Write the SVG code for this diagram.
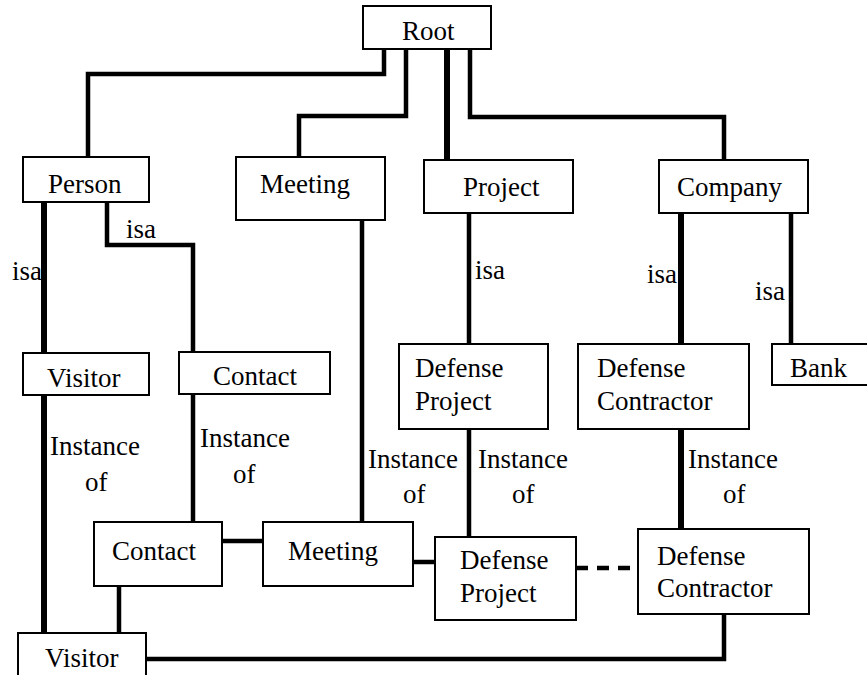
<svg xmlns="http://www.w3.org/2000/svg" width="867" height="675" viewBox="0 0 867 675">
<style>
.box{fill:#fff;stroke:#000;stroke-width:2}
text{font-family:"Liberation Serif",Tinos,"Times New Roman",Times,"DejaVu Serif",serif;font-size:27px;fill:#000}
.c{fill:none;stroke:#000;stroke-width:4.5;stroke-linejoin:miter}
.ck{fill:none;stroke:#000;stroke-width:6}
.d{fill:none;stroke:#000;stroke-width:4.5;stroke-dasharray:12,9}
</style>
<rect width="867" height="675" fill="#fff"/>
<g id="connectors">
<polyline class="c" points="384,49 384,74 88,74 88,157"/>
<polyline class="c" points="406,49 406,116 299,116 299,157"/>
<polyline class="ck" points="447,49 447,160"/>
<polyline class="c" points="470,49 470,117 724,117 724,160"/>
<polyline class="ck" points="44,202 44,353"/>
<polyline class="c" points="107,202 107,245 193,245 193,352"/>
<polyline class="c" points="469,213 469,344"/>
<polyline class="ck" points="681,213 681,344"/>
<polyline class="c" points="791,213 791,344"/>
<polyline class="ck" points="44,395 44,633"/>
<polyline class="c" points="193,394 193,522"/>
<polyline class="c" points="362,220 362,522"/>
<polyline class="c" points="469,429 469,537"/>
<polyline class="ck" points="681,429 681,529"/>
<polyline class="c" points="222,541 263,541"/>
<polyline class="c" points="413,562 435,562"/>
<polyline class="d" points="576,568 638,568"/>
<polyline class="c" points="119,586 119,633"/>
<polyline class="c" points="146,659 724,659 724,614"/>
</g>
<g id="labels" font-family="Liberation Serif, serif">
<text x="126" y="238">isa</text>
<text x="12" y="280">isa</text>
<text x="475" y="279">isa</text>
<text x="647" y="283">isa</text>
<text x="755" y="300">isa</text>
<text x="50" y="455">Instance</text>
<text x="85" y="491">of</text>
<text x="200" y="447">Instance</text>
<text x="233" y="483">of</text>
<text x="368" y="468">Instance</text>
<text x="403" y="503">of</text>
<text x="478" y="468">Instance</text>
<text x="512" y="503">of</text>
<text x="688" y="468">Instance</text>
<text x="723" y="503">of</text>
</g>
<g id="root"><rect class="box" x="363" y="6" width="128" height="43"/><text x="402" y="40">Root</text></g>
<g id="person"><rect class="box" x="23" y="157" width="126" height="45"/><text x="48" y="193">Person</text></g>
<g id="meeting-class"><rect class="box" x="236" y="157" width="149" height="63"/><text x="260" y="193">Meeting</text></g>
<g id="project"><rect class="box" x="424" y="160" width="149" height="53"/><text x="463" y="196">Project</text></g>
<g id="company"><rect class="box" x="659" y="160" width="149" height="53"/><text x="677" y="196">Company</text></g>
<g id="visitor-class"><rect class="box" x="23" y="353" width="126" height="42"/><text x="47" y="387">Visitor</text></g>
<g id="contact-class"><rect class="box" x="179" y="352" width="151" height="42"/><text x="213" y="385">Contact</text></g>
<g id="defense-project-class"><rect class="box" x="399" y="344" width="149" height="85"/><text x="415" y="377">Defense</text><text x="415" y="410">Project</text></g>
<g id="defense-contractor-class"><rect class="box" x="578" y="344" width="171" height="85"/><text x="597" y="377">Defense</text><text x="597" y="410">Contractor</text></g>
<g id="bank"><rect class="box" x="772" y="344" width="97" height="41"/><text x="790" y="377">Bank</text></g>
<g id="contact-instance"><rect class="box" x="94" y="522" width="128" height="64"/><text x="112" y="560">Contact</text></g>
<g id="meeting-instance"><rect class="box" x="263" y="522" width="150" height="64"/><text x="288" y="560">Meeting</text></g>
<g id="defense-project-instance"><rect class="box" x="435" y="537" width="141" height="83"/><text x="460" y="569">Defense</text><text x="460" y="602">Project</text></g>
<g id="defense-contractor-instance"><rect class="box" x="638" y="529" width="171" height="85"/><text x="657" y="565">Defense</text><text x="657" y="597">Contractor</text></g>
<g id="visitor-instance"><rect class="box" x="18" y="633" width="128" height="45"/><text x="45" y="667">Visitor</text></g>
</svg>
